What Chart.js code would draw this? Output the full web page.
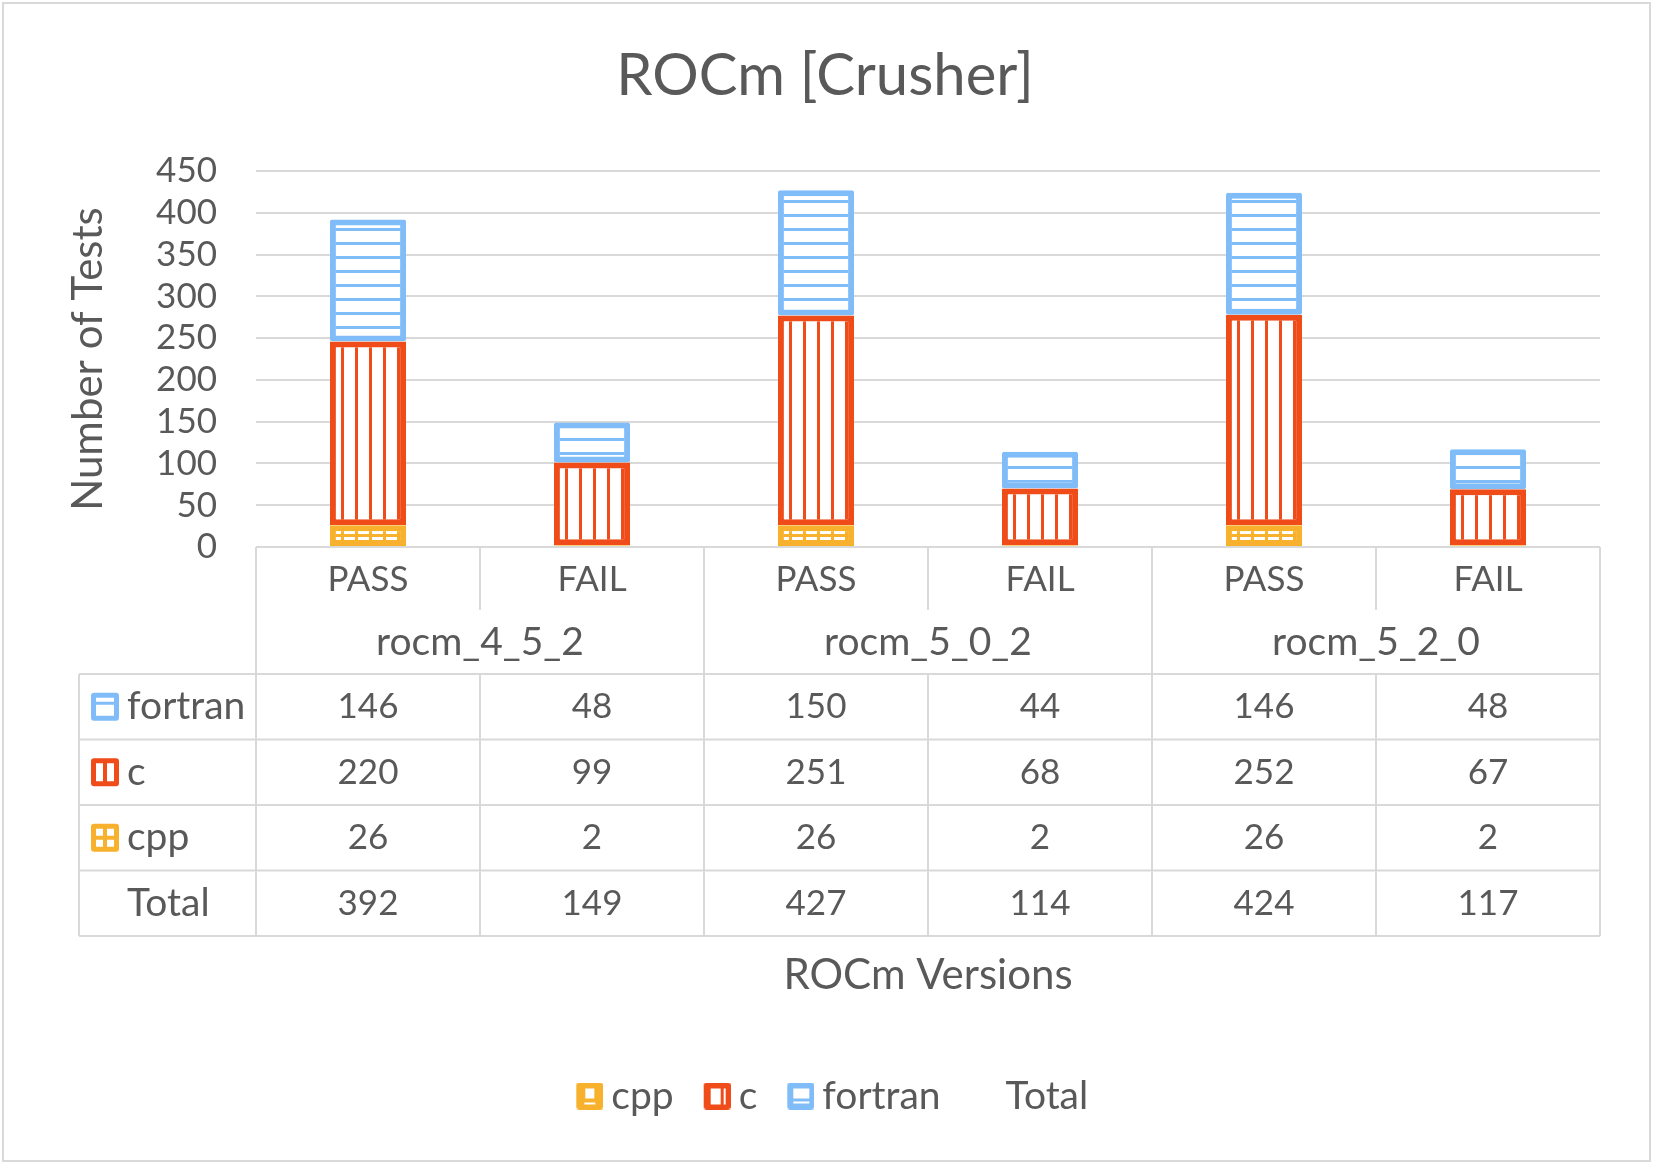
<!DOCTYPE html>
<html><head><meta charset="utf-8">
<script src="https://cdn.jsdelivr.net/npm/chart.js@4.4.1/dist/chart.umd.min.js"></script>
<style>html,body{margin:0;padding:0;background:#fff;}#wrap{width:1653px;height:1164px;}</style>
</head><body><div id="wrap"><canvas id="c" width="1653" height="1164"></canvas></div>
<script>
// ---- data ----
const versions = ['rocm_4_5_2', 'rocm_5_0_2', 'rocm_5_2_0'];
const outcomes = ['PASS', 'FAIL', 'PASS', 'FAIL', 'PASS', 'FAIL'];
const cppVals = [26, 2, 26, 2, 26, 2];
const cVals = [220, 99, 251, 68, 252, 67];
const fortranVals = [146, 48, 150, 44, 146, 48];
const totalVals = [392, 149, 427, 114, 424, 117];
const seriesNames = ['cpp', 'c', 'fortran', 'Total'];
const yMin = 0, yMax = 450, yStep = 50;
const chartTitle = 'ROCm [Crusher]';
const yTitle = 'Number of Tests';
const xTitle = 'ROCm Versions';

// ---- style ----
const FONT = 'Lato';
const TXT = '#595959', GRID = '#d9d9d9';
const BLUE = '#80BDF8', RED = '#EF4C1A', ORANGE = '#F7B12C';
const FS = 35;        // digits / caps
const FS_L = 39;      // lowercase labels
const TITLE_FS = 58, AXT_FS = 42;
const PAD_L = 50, PAD_R = 53;
const ICON = 27, ICON_M = 26, LEG_BW = 30;     // legend icon size, left margin inside icon canvas, box width
const LEG_PAD = 15.5, LEG_CY = 1096;
const LEG_TOP = LEG_CY - LEG_PAD - FS_L / 2;

function makePattern(color, mode) {
  const w = 14, h = mode === 'g' ? 10 : 14;
  const cv = document.createElement('canvas'); cv.width = w; cv.height = h;
  const g = cv.getContext('2d');
  g.fillStyle = '#fff'; g.fillRect(0, 0, w, h);
  g.fillStyle = color;
  if (mode === 'v' || mode === 'g') g.fillRect(5, 0, 3, h);
  if (mode === 'h' || mode === 'g') g.fillRect(0, 4, w, 3);
  return g.createPattern(cv, 'repeat');
}
function rr(g, x, y, w, h, r) {
  g.beginPath(); g.moveTo(x + r, y); g.arcTo(x + w, y, x + w, y + h, r); g.arcTo(x + w, y + h, x, y + h, r);
  g.arcTo(x, y + h, x, y, r); g.arcTo(x, y, x + w, y, r); g.closePath();
}
function legendIcon(name) {
  const s = ICON, m = ICON_M, cv = document.createElement('canvas'); cv.width = s + m; cv.height = s;
  const g = cv.getContext('2d');
  if (name === 'Total') return cv;
  const col = name === 'cpp' ? ORANGE : name === 'c' ? RED : BLUE;
  g.translate(m, 0);
  g.fillStyle = col; rr(g, 0, 0, s, s, 3); g.fill();
  g.fillStyle = '#fff';
  if (name === 'cpp') { g.fillRect(9, 6, 9, 10); g.fillRect(8, 20, 11, 2); }
  else if (name === 'c') { g.fillRect(7, 6, 10, 16); g.fillRect(20, 6, 2, 16); }
  else { g.fillRect(6, 6, 16, 10); g.fillRect(6, 19, 16, 2); }
  return cv;
}
function tableIcon(g, name, x, y) {
  const s = 28;
  const col = name === 'cpp' ? ORANGE : name === 'c' ? RED : BLUE;
  g.fillStyle = col; rr(g, x, y, s, s, 3); g.fill();
  g.fillStyle = '#fff';
  if (name === 'fortran') { g.fillRect(x + 5, y + 5, 18, 18); g.fillStyle = col; g.fillRect(x + 5, y + 9, 18, 3); }
  else if (name === 'c') { g.fillRect(x + 5, y + 5, 7, 18); g.fillRect(x + 16, y + 5, 7, 18); }
  else if (name === 'cpp') { g.fillRect(x + 5, y + 5, 7, 7); g.fillRect(x + 16, y + 5, 7, 7); g.fillRect(x + 5, y + 16, 7, 7); g.fillRect(x + 16, y + 16, 7, 7); }
}

const tablePlugin = {
  id: 'dataTable',
  beforeDraw(chart) {
    const g = chart.ctx;
    g.save(); g.fillStyle = '#fff'; g.fillRect(0, 0, chart.width, chart.height);
    g.strokeStyle = GRID; g.lineWidth = 2; g.strokeRect(3, 3, chart.width - 6, chart.height - 6);
    g.restore();
  },
  afterDraw(chart) {
    const g = chart.ctx, a = chart.chartArea, x = chart.scales.x;
    const b = a.bottom, rowPF = 63, rowG = 64, rowH = 65.5;
    const tTop = b + rowPF + rowG, tBot = tTop + 4 * rowH, tLeft = 79;
    const half = (x.getPixelForValue(1) - x.getPixelForValue(0)) / 2;
    const line = (x1, y1, x2, y2) => { g.beginPath(); g.moveTo(x1, y1); g.lineTo(x2, y2); g.stroke(); };
    g.save();
    g.strokeStyle = GRID; g.lineWidth = 2;
    line(a.left, b, a.left, tBot); line(a.right, b, a.right, tBot);
    for (let i = 1; i < outcomes.length; i++) {
      const xx = Math.round(x.getPixelForValue(i) - half);
      if (i % 2 === 0) line(xx, b, xx, tBot);
      else { line(xx, b, xx, b + rowPF); line(xx, tTop, xx, tBot); }
    }
    for (let k = 0; k <= 4; k++) { const yy = tTop + k * rowH; line(tLeft, yy, a.right, yy); }
    line(tLeft, tTop, tLeft, tBot);
    g.fillStyle = TXT; g.textAlign = 'center'; g.textBaseline = 'middle';
    g.font = FS + 'px ' + FONT;
    outcomes.forEach((o, i) => g.fillText(o, x.getPixelForValue(i), b + rowPF / 2 + 1));
    g.font = FS_L + 'px ' + FONT;
    versions.forEach((v, j) => g.fillText(v, (x.getPixelForValue(2 * j) + x.getPixelForValue(2 * j + 1)) / 2, b + rowPF + rowG / 2));
    const rows = [['fortran', fortranVals], ['c', cVals], ['cpp', cppVals], ['Total', totalVals]];
    rows.forEach(([name, vals], r) => {
      const cy = tTop + r * rowH + rowH / 2;
      if (name !== 'Total') tableIcon(g, name, 91, cy - 14);
      g.fillStyle = TXT; g.textAlign = 'left';
      g.font = FS_L + 'px ' + FONT;
      g.fillText(name, 127, cy);
      g.textAlign = 'center';
      g.font = FS + 'px ' + FONT;
      vals.forEach((v, i) => g.fillText(String(v), x.getPixelForValue(i), cy));
    });
    g.restore();
  }
};

const icons = seriesNames.map(legendIcon);
const chart = new Chart(document.getElementById('c'), {
  type: 'bar',
  data: {
    labels: outcomes,
    datasets: [
      { label: seriesNames[0], data: cppVals, backgroundColor: makePattern(ORANGE, 'g'), borderColor: ORANGE, borderWidth: 6, borderSkipped: false, stack: 's' },
      { label: seriesNames[1], data: cVals, backgroundColor: makePattern(RED, 'v'), borderColor: RED, borderWidth: 6, borderSkipped: false, stack: 's' },
      { label: seriesNames[2], data: fortranVals, backgroundColor: makePattern(BLUE, 'h'), borderColor: BLUE, borderWidth: 6, borderSkipped: false, borderRadius: 2, stack: 's' },
      { type: 'line', label: seriesNames[3], data: totalVals, showLine: false, pointRadius: 0, pointHoverRadius: 0, borderWidth: 0, stack: 'total' }
    ]
  },
  options: {
    responsive: false,
    animation: false,
    events: [],
    layout: { padding: { left: PAD_L, right: PAD_R, top: 0, bottom: 1164 - (LEG_TOP + FS_L + LEG_PAD + 10) } },
    datasets: { bar: { categoryPercentage: 1, barPercentage: 0.34 } },
    scales: {
      x: {
        stacked: true,
        grid: { display: false }, border: { display: false },
        ticks: { display: false },
        title: { display: true, text: xTitle, color: TXT, font: { family: FONT, size: AXT_FS }, padding: { top: 0, bottom: LEG_TOP - 975 - AXT_FS * 0.6 } },
        afterFit(s) { s.height = LEG_TOP - 547; }
      },
      y: {
        stacked: true, min: yMin, max: yMax,
        ticks: { stepSize: yStep, autoSkip: false, color: TXT, font: { family: FONT, size: FS }, padding: 39 },
        grid: { color: GRID, lineWidth: 2, drawTicks: false },
        border: { display: false },
        title: { display: true, text: yTitle, color: TXT, font: { family: FONT, size: AXT_FS }, padding: { top: 88 - PAD_L - AXT_FS * 0.6, bottom: 0 } },
        afterFit(s) { s.width = 256 - PAD_L; }
      }
    },
    plugins: {
      title: { display: true, text: chartTitle, color: TXT, font: { family: FONT, size: TITLE_FS, weight: 'normal' }, padding: { top: 76 - TITLE_FS * 0.6, bottom: 171 - 76 - TITLE_FS * 0.6 } },
      legend: {
        position: 'bottom',
        labels: {
          usePointStyle: true, pointStyleWidth: LEG_BW, padding: LEG_PAD,
          color: TXT, font: { family: FONT, size: FS_L },
          generateLabels(ch) {
            return ch.data.datasets.map((d, i) => ({
              text: d.label, pointStyle: icons[i], fillStyle: 'transparent', strokeStyle: 'transparent',
              lineWidth: 0, hidden: false, datasetIndex: i, fontColor: TXT
            }));
          }
        }
      },
      tooltip: { enabled: false }
    }
  },
  plugins: [tablePlugin]
});
</script></body></html>
